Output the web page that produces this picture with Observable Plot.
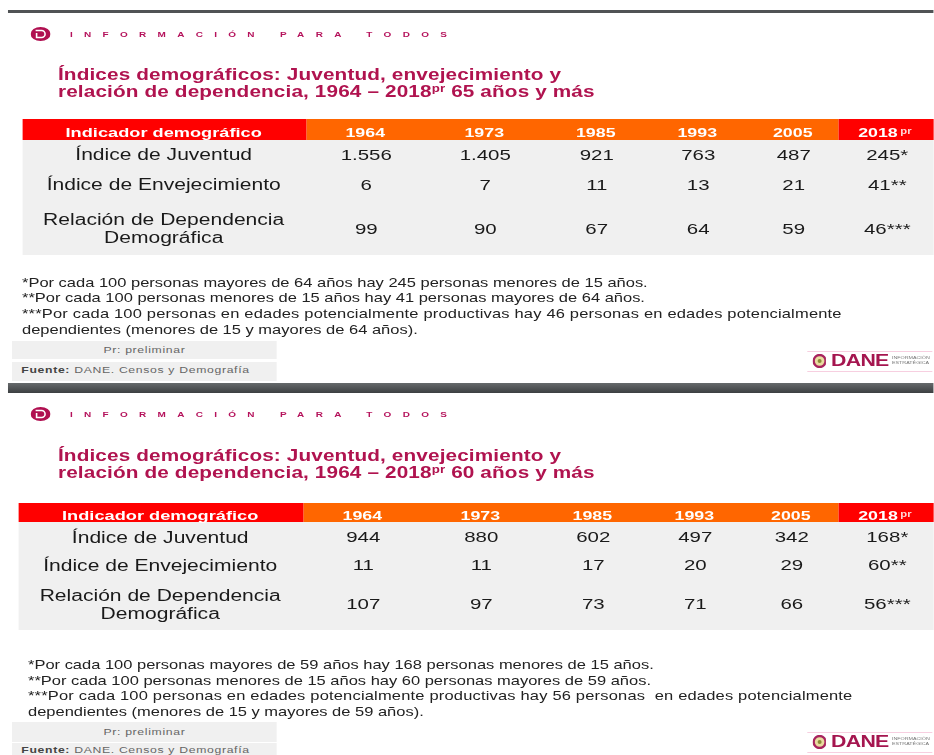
<!DOCTYPE html>
<html lang="es">
<head>
<meta charset="utf-8">
<script src="https://cdn.jsdelivr.net/npm/d3@7"></script>
<script src="https://cdn.jsdelivr.net/npm/@observablehq/plot@0.6"></script>
<style>
html,body{margin:0;padding:0;background:#fff;overflow:hidden}
#stage{position:absolute;left:0;top:0;width:702.3px;height:755px;transform-origin:0 0;transform:scaleX(1.33);filter:blur(.35px);font-family:"Liberation Sans",Arial,sans-serif;overflow:hidden}
#stage>*{position:absolute;white-space:nowrap}
.title{color:#b0134f;font-weight:700;font-size:15.6px;line-height:17px;letter-spacing:.1px}
.title sup{font-size:10px;line-height:0;vertical-align:baseline;position:relative;top:-5px}
.tag{color:#b5135c;font-weight:700;font-size:7.5px;letter-spacing:8.5px}
.note{color:#222;font-size:12.4px;line-height:15.7px}
.note .wide{letter-spacing:.14px}
.box{background:#f0f0f0;color:#666;font-size:9.2px;letter-spacing:.5px;box-sizing:border-box}
</style>
</head>
<body>
<div id="stage"></div>
<script>
const stretch = 1.33;
const years = ["1964", "1973", "1985", "1993", "2005", "2018"];
const indicators = ["Índice de Juventud", "Índice de Envejecimiento", "Relación de Dependencia\nDemográfica"];
const headerLabel = "Indicador demográfico";
const prLabel = "pr";

const juventud65 = ["1.556", "1.405", "921", "763", "487", "245*"];
const envejecimiento65 = ["6", "7", "11", "13", "21", "41**"];
const dependencia65 = ["99", "90", "67", "64", "59", "46***"];
const juventud60 = ["944", "880", "602", "497", "342", "168*"];
const envejecimiento60 = ["11", "11", "17", "20", "29", "60**"];
const dependencia60 = ["107", "97", "73", "71", "66", "56***"];

const titleLine1 = "Índices demográficos: Juventud, envejecimiento y";
const tagline = "INFORMACIÓN PARA TODOS";
const notes65 = [
  "*Por cada 100 personas mayores de 64 años hay 245 personas menores de 15 años.",
  "**Por cada 100 personas menores de 15 años hay 41 personas mayores de 64 años.",
  "<span class='wide'>***Por cada 100 personas en edades potencialmente productivas hay 46 personas en edades potencialmente</span>",
  "dependientes (menores de 15 y mayores de 64 años)."
];
const notes60 = [
  "*Por cada 100 personas mayores de 59 años hay 168 personas menores de 15 años.",
  "**Por cada 100 personas menores de 15 años hay 60 personas mayores de 59 años.",
  "<span class='wide'>***Por cada 100 personas en edades potencialmente productivas hay 56 personas&nbsp; en edades potencialmente</span>",
  "dependientes (menores de 15 y mayores de 59 años)."
];

const stage = document.getElementById("stage");
function add(cls, left, top, html, css = "") {
  const d = document.createElement("div");
  d.className = cls;
  d.style.cssText = `left:${left / stretch}px;top:${top}px;${css}`;
  d.innerHTML = html;
  stage.appendChild(d);
  return d;
}

function table(rows, xEdges, yEdges, valueDy) {
  const left = xEdges[0];
  const top = yEdges[0];
  const width = (934 - left) / stretch;
  const height = yEdges[yEdges.length - 1] - top;
  const x = {type: "linear", domain: d3.range(xEdges.length), range: xEdges.map((v) => (v - left) / stretch)};
  const y = {type: "linear", domain: d3.range(yEdges.length), range: yEdges.map((v) => v - top)};
  const cells = rows.flatMap((vals, r) => vals.map((v, c) => ({v, r, c})));
  const header = years.map((yr, c) => ({yr, c}));
  const labels = indicators.map((t, r) => ({t, r}));
  const svg = Plot.plot({
    width, height,
    margin: 0,
    x: {...x, axis: null},
    y: {...y, axis: null},
    style: {background: "transparent", fontFamily: "'Liberation Sans', Arial, sans-serif", overflow: "visible"},
    marks: [
      Plot.rect([{}], {x1: () => 0, x2: () => 7, y1: () => 1, y2: () => 4, fill: "#f0f0f0"}),
      Plot.rect([{}], {x1: () => 0, x2: () => 1, y1: () => 0, y2: () => 1, fill: "#ff0000"}),
      Plot.rect([{}], {x1: () => 1, x2: () => 6, y1: () => 0, y2: () => 1, fill: "#ff6600"}),
      Plot.rect([{}], {x1: () => 6, x2: () => 7, y1: () => 0, y2: () => 1, fill: "#ff0000"}),
      Plot.text([headerLabel], {x: () => 0.5, y: () => 0.5, text: (d) => d, fill: "#fff", fontWeight: "bold", fontSize: 13.7, dy: 3, dx: -1.2}),
      Plot.text(header.filter((d) => d.c < 5), {x: (d) => d.c + 1.5, y: () => 0.5, text: "yr", fill: "#fff", fontWeight: "bold", fontSize: 13.4, dy: 3, dx: -0.75}),
      Plot.text(header.filter((d) => d.c === 5), {x: () => 6.5, y: () => 0.5, text: "yr", fill: "#fff", fontWeight: "bold", fontSize: 13.4, dy: 3, dx: -7}),
      Plot.text([prLabel], {x: () => 6.5, y: () => 0.5, text: (d) => d, fill: "#ffd9d9", fontWeight: "bold", fontSize: 8.5, dx: 14, dy: 1}),
      Plot.text(labels, {x: () => 0.5, y: (d) => d.r + 1.5, text: "t", fill: "#1a1a1a", fontSize: 15.85, lineHeight: 1.13, dx: -1.2}),
      Plot.text(cells, {x: (d) => d.c + 1.5, y: (d) => d.r + 1.5, text: "v", fill: "#1a1a1a", fontSize: 15.4, dy: valueDy})
    ]
  });
  svg.style.left = left / stretch + "px";
  svg.style.top = top + "px";
  svg.style.width = width + "px";
  svg.style.height = height + "px";
  stage.appendChild(svg);
}

function logo(dy) {
  add("", 31, 27 + dy, `<svg width="${20 / stretch}" height="14" viewBox="0 0 20 14" preserveAspectRatio="none"><ellipse cx="10" cy="7" rx="10" ry="7" fill="#b00f50"/><path d="M5 3.5h6a3.5 3.5 0 0 1 0 7H6V6" fill="none" stroke="#fff" stroke-width="1.6"/></svg>`);
}
function dane(dy) {
  add("", 807, 351 + dy, "", `width:${125 / stretch}px;height:19px;border-top:1px solid #f7cfe0;border-bottom:1px solid #f7cfe0;`);
  add("", 812, 353.5 + dy, `<svg width="${14 / stretch}" height="14" viewBox="0 0 14 14" preserveAspectRatio="none"><circle cx="7" cy="7" r="6" fill="#e9dca0" stroke="#a8245f" stroke-width="2.4"/><circle cx="7" cy="7" r="2" fill="#8d8a3a"/></svg>`);
  add("", 831, 351.5 + dy, "DANE", "color:#a5154f;font-weight:700;font-size:16px;line-height:17px;letter-spacing:-.5px;");
  add("", 892, 356 + dy, "INFORMACIÓN<br>ESTRATÉGICA", "color:#777;font-size:4px;line-height:4.5px;");
}

// Panel 1: 65 años y más
add("", 8, 10, "", `width:${926 / stretch}px;height:2.5px;background:#505355;`);
logo(0);
add("tag", 70, 29.5, tagline);
add("title", 58, 66, `${titleLine1}<br>relación de dependencia, 1964 – 2018<sup>pr</sup> 65 años y más`);
table([juventud65, envejecimiento65, dependencia65],
  [22, 306, 424, 544, 647, 747, 838, 934],
  [119, 140, 168, 200, 255], 1);
add("note", 22, 275.5, notes65.join("<br>"));
add("box", 12, 341, "Pr: preliminar", `width:${265 / stretch}px;height:18px;line-height:18px;text-align:center;`);
add("box", 12, 362, "<b style='color:#444'>Fuente:</b> DANE. Censos y Demografía", `width:${265 / stretch}px;height:19px;line-height:17px;padding-left:7px;`);
dane(0);

// Panel 2: 60 años y más
add("", 8, 383, "", `width:${926 / stretch}px;height:10px;background:linear-gradient(#666a6c,#3c3f41);`);
logo(380);
add("tag", 70, 409.5, tagline);
add("title", 58, 447, `${titleLine1}<br>relación de dependencia, 1964 – 2018<sup>pr</sup> 60 años y más`);
table([juventud60, envejecimiento60, dependencia60],
  [18, 303, 421, 539, 645, 743, 838, 934],
  [503, 522, 552, 578, 630], 0);
add("note", 28, 658, notes60.join("<br>"));
add("box", 12, 722, "Pr: preliminar", `width:${265 / stretch}px;height:20px;line-height:20px;text-align:center;`);
add("box", 12, 743, "<b style='color:#444'>Fuente:</b> DANE. Censos y Demografía", `width:${265 / stretch}px;height:12px;line-height:15px;padding-left:7px;`);
dane(381);
</script>
</body>
</html>
